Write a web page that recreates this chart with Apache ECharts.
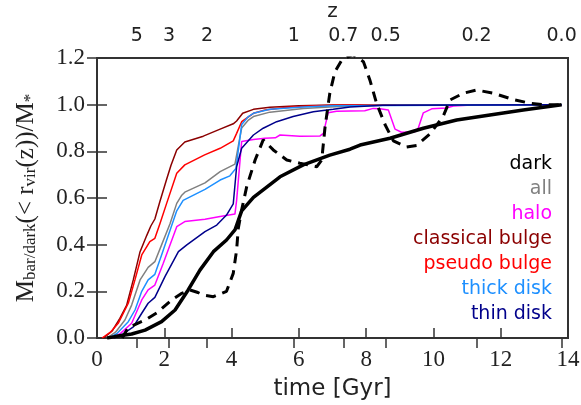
<!DOCTYPE html>
<html>
<head>
<meta charset="utf-8">
<script src="https://cdn.jsdelivr.net/npm/echarts@6/dist/echarts.min.js"></script>
<style>
  html, body { margin: 0; padding: 0; background: #fff; }
  #chart { width: 581px; height: 405px; }
</style>
</head>
<body>
<div id="chart"></div>
<script>
// [time in Gyr, fraction]
var classical = [[0.2,0],[0.45,0.03],[0.68,0.084],[0.88,0.14],[1.08,0.25],[1.28,0.37],[1.48,0.44],[1.6,0.48],[1.72,0.51],[1.87,0.585],[2.07,0.68],[2.2,0.74],[2.37,0.806],[2.61,0.84],[3.16,0.865],[3.66,0.895],[4.05,0.918],[4.15,0.93],[4.33,0.963],[4.65,0.98],[5.14,0.989],[6.0,0.995],[7.0,0.999],[13.81,1.0]];
var pseudo = [[0.15,0],[0.4,0.025],[0.63,0.063],[0.93,0.149],[1.13,0.25],[1.33,0.356],[1.57,0.413],[1.72,0.427],[1.87,0.49],[2.07,0.577],[2.37,0.706],[2.61,0.742],[3.2,0.785],[3.66,0.813],[4.05,0.845],[4.15,0.877],[4.3,0.927],[4.65,0.963],[5.0,0.977],[5.6,0.988],[6.5,0.995],[7.5,0.999],[13.81,1.0]];
var all = [[0.3,0],[0.55,0.025],[0.83,0.077],[1.03,0.141],[1.28,0.249],[1.52,0.303],[1.72,0.327],[1.92,0.399],[2.17,0.49],[2.37,0.577],[2.52,0.612],[2.61,0.625],[3.21,0.665],[3.66,0.713],[4.1,0.745],[4.3,0.9],[4.5,0.934],[4.65,0.949],[5.14,0.968],[6.13,0.984],[6.92,0.99],[8.0,0.996],[9.0,0.999],[13.81,1.0]];
var thick = [[0.35,0],[0.6,0.02],[0.93,0.07],[1.13,0.12],[1.33,0.2],[1.52,0.249],[1.72,0.273],[1.92,0.356],[2.37,0.545],[2.56,0.59],[3.21,0.637],[3.66,0.677],[3.95,0.695],[4.13,0.727],[4.3,0.915],[4.5,0.949],[4.65,0.963],[5.14,0.98],[6.13,0.99],[7.0,0.995],[13.81,1.0]];
var halo = [[0.45,0],[0.7,0.02],[1.03,0.063],[1.33,0.163],[1.52,0.206],[1.72,0.227],[1.97,0.32],[2.37,0.477],[2.61,0.499],[3.21,0.509],[3.66,0.521],[4.1,0.531],[4.15,0.59],[4.3,0.842],[4.65,0.851],[4.99,0.856],[5.3,0.858],[5.44,0.87],[6.03,0.865],[6.63,0.866],[6.73,0.877],[6.87,0.965],[7.12,0.972],[7.96,0.974],[8.21,0.984],[8.41,0.982],[8.66,0.977],[8.86,0.895],[9.05,0.882],[9.45,0.884],[9.55,0.9],[9.7,0.965],[9.95,0.982],[10.39,0.986],[10.59,0.994],[11.0,0.998],[13.81,1.0]];
var thin = [[0.5,0],[0.75,0.015],[1.08,0.048],[1.33,0.106],[1.52,0.149],[1.72,0.174],[2.02,0.263],[2.42,0.37],[2.67,0.399],[3.21,0.456],[3.56,0.484],[3.85,0.527],[4.05,0.575],[4.15,0.734],[4.3,0.813],[4.65,0.87],[4.94,0.899],[5.34,0.927],[5.83,0.949],[6.43,0.97],[7.02,0.98],[7.52,0.99],[8.5,0.997],[13.81,1.0]];
var dark = [[0.3,0],[0.53,0.006],[1.03,0.017],[1.43,0.034],[1.92,0.07],[2.32,0.12],[2.71,0.206],[3.06,0.291],[3.46,0.37],[3.85,0.42],[4.1,0.463],[4.3,0.545],[4.65,0.603],[5.44,0.691],[6.13,0.742],[6.92,0.784],[7.52,0.809],[7.82,0.827],[8.71,0.856],[9.7,0.899],[10.69,0.934],[11.68,0.956],[12.67,0.977],[13.81,1.0]];
var darkAll = [[0.75,0],[0.93,0.045],[1.43,0.077],[1.8,0.11],[2.22,0.163],[2.5,0.19],[2.76,0.206],[3.0,0.195],[3.16,0.184],[3.46,0.177],[3.85,0.2],[4.05,0.277],[4.15,0.377],[4.2,0.47],[4.3,0.549],[4.45,0.649],[4.7,0.763],[4.94,0.849],[5.24,0.806],[5.64,0.763],[6.03,0.749],[6.53,0.734],[6.68,0.763],[6.78,0.906],[6.92,1.049],[7.07,1.14],[7.27,1.19],[7.6,1.215],[7.92,1.184],[8.11,1.106],[8.31,1.006],[8.56,0.915],[8.81,0.845],[9.2,0.818],[9.5,0.825],[9.9,0.875],[10.29,0.95],[10.49,1.02],[10.89,1.049],[11.28,1.063],[11.78,1.049],[12.37,1.022],[12.87,1.006],[13.26,1.0],[13.81,1.0]];

// redshift ticks on the top axis (position in Gyr)
var zTimes = [1.18, 2.14, 3.27, 5.85, 7.32, 8.58, 11.28, 13.81];
var zLabels = ['5', '3', '2', '1', '0.7', '0.5', '0.2', '0.0'];

var labelNames = ['dark', 'all', 'halo', 'classical bulge', 'pseudo bulge', 'thick disk', 'thin disk'];
var labelColors = ['#000000', '#808080', '#ff00ff', '#8b0000', '#ff0000', '#1e90ff', '#00008b'];

var chart = echarts.init(document.getElementById('chart'));

var serif = 'Liberation Serif';
var sans = 'DejaVu Sans';
var ink = '#222';

function thinLine(data, color) {
    return { type: 'line', data: data, showSymbol: false, xAxisIndex: 0, yAxisIndex: 0,
             lineStyle: { color: color, width: 1.5 }, z: 2 };
}

var graphics = [];
for (var i = 0; i < labelNames.length; i++) {
    graphics.push({
        type: 'text', right: 29, top: 155 + i * 24.9,
        style: { text: labelNames[i], fill: labelColors[i], font: '19px "' + sans + '"', textAlign: 'right' }
    });
}

var option = {
    animation: false,
    grid: { left: 97, right: 13, top: 58, bottom: 67, show: true, borderColor: '#333', borderWidth: 2,
            containLabel: false, outerBoundsMode: 'none' },
    xAxis: [
        {
            type: 'value', position: 'bottom', min: 0, max: 14, interval: 2,
            name: 'time [Gyr]', nameLocation: 'middle', nameGap: 40,
            nameTextStyle: { fontFamily: sans, fontSize: 23, color: ink },
            axisLine: { show: false },
            axisTick: { inside: true, length: 10, lineStyle: { color: '#333', width: 1.5 } },
            axisLabel: { fontFamily: serif, fontSize: 23, color: ink, margin: 10 },
            splitLine: { show: false }
        },
        {
            type: 'value', position: 'top', min: 0, max: 14,
            name: 'z', nameLocation: 'middle', nameGap: 31,
            nameTextStyle: { fontFamily: sans, fontSize: 20, color: ink },
            axisLine: { show: false },
            axisTick: { inside: true, length: 10, customValues: zTimes, lineStyle: { color: '#333', width: 1.5 } },
            axisLabel: {
                customValues: zTimes, fontFamily: sans, fontSize: 19, color: ink, margin: 12,
                formatter: function (v) {
                    var k = zTimes.indexOf(v);
                    return k >= 0 ? zLabels[k] : '';
                }
            },
            splitLine: { show: false }
        }
    ],
    yAxis: [
        {
            type: 'value', min: 0, max: 1.2, interval: 0.2,
            name: '{m|M}{s|bar/dark}{m|(< r}{s|vir}{m|(z))/M}{s|*}',
            nameLocation: 'middle', nameGap: 58, nameRotate: 90,
            nameTextStyle: {
                color: ink,
                rich: {
                    m: { fontFamily: serif, fontSize: 25, lineHeight: 30, color: ink, verticalAlign: 'bottom' },
                    s: { fontFamily: serif, fontSize: 17, lineHeight: 17, color: ink, verticalAlign: 'bottom' }
                }
            },
            axisLine: { show: false },
            axisTick: { inside: true, length: 10, lineStyle: { color: '#333', width: 1.5 } },
            axisLabel: { fontFamily: serif, fontSize: 23, color: ink, margin: 12,
                         formatter: function (v) { return v.toFixed(1); } },
            splitLine: { show: false }
        },
        {
            type: 'value', position: 'right', min: 0, max: 1.2, interval: 0.2,
            axisLine: { show: false },
            axisTick: { inside: true, length: 10, lineStyle: { color: '#333', width: 1.5 } },
            axisLabel: { show: false },
            splitLine: { show: false }
        }
    ],
    graphic: graphics,
    series: [
        thinLine(halo, labelColors[2]),
        thinLine(classical, labelColors[3]),
        thinLine(pseudo, labelColors[4]),
        thinLine(all, labelColors[1]),
        thinLine(thick, labelColors[5]),
        thinLine(thin, labelColors[6]),
        { type: 'line', data: dark, showSymbol: false, z: 3,
          lineStyle: { color: '#000', width: 3.5 } },
        { type: 'line', data: darkAll, showSymbol: false, z: 3,
          lineStyle: { color: '#000', width: 3, type: [10, 7] } }
    ]
};
chart.setOption(option);
</script>
</body>
</html>
